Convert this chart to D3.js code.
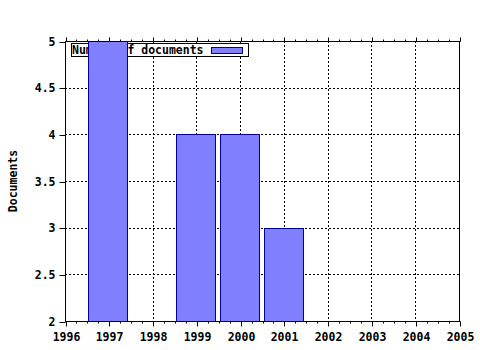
<!DOCTYPE html>
<html><head><meta charset="utf-8">
<script src="https://cdn.jsdelivr.net/npm/d3@7"></script>
<style>body{margin:0;background:#fff}svg{display:block}text{font-family:"DejaVu Sans Mono",monospace;font-weight:bold;font-size:11.5px;fill:#000}</style>
</head><body><svg id="c" width="480" height="350"></svg>
<script>
const years = [1997, 1999, 2000, 2001];
const documents = [5, 4, 4, 3];
const xTicks = [1996, 1997, 1998, 1999, 2000, 2001, 2002, 2003, 2004, 2005];
const yTicks = [2, 2.5, 3, 3.5, 4, 4.5, 5];
const yTickLabels = ["2", "2.5", "3", "3.5", "4", "4.5", "5"];
const seriesName = "Number of documents";
const yTitle = "Documents";

const svg = d3.select("#c");
const L = 65, R = 459, T = 41, B = 321;
const x = d3.scaleLinear().domain([1996, 2005]).range([L, R]);
const y = d3.scaleLinear().domain([2, 5]).range([B, T]);
const yearW = x(1997) - x(1996);
const barW = yearW * 0.89;

// grid
const g = svg.append("g").attr("stroke", "#000").attr("stroke-dasharray", "2,2").attr("stroke-width", 1);
xTicks.slice(1, -1).forEach(t => g.append("line").attr("x1", Math.round(x(t)) + 0.5).attr("x2", Math.round(x(t)) + 0.5).attr("y1", T).attr("y2", B));
yTicks.slice(1, -1).forEach(t => g.append("line").attr("y1", Math.round(y(t)) + 0.5).attr("y2", Math.round(y(t)) + 0.5).attr("x1", L).attr("x2", R));

// legend (drawn under bars)
const lg = svg.append("g");
lg.append("rect").attr("x", 71.5).attr("y", 43.5).attr("width", 177).attr("height", 13).attr("fill", "#fff").attr("stroke", "#000");
lg.append("text").attr("x", 72).attr("y", 54).text(seriesName);
lg.append("rect").attr("x", 211.5).attr("y", 47.5).attr("width", 31).attr("height", 6).attr("fill", "#8080ff").attr("stroke", "#000099");

// bars
svg.append("g").selectAll("rect").data(years).join("rect")
  .attr("x", (d) => Math.round(x(d) - barW / 2 - 0.8) + 0.5)
  .attr("y", (d, i) => Math.round(y(documents[i])) + 0.5)
  .attr("width", Math.round(barW))
  .attr("height", (d, i) => Math.round(B - y(documents[i])))
  .attr("fill", "#8080ff").attr("stroke", "#000099");

// axes
const minor = d3.range(1996, 2005.001, 0.25);
const xb = svg.append("g").attr("transform", `translate(0,${B + 0.5})`)
  .call(d3.axisBottom(x).tickValues(xTicks).tickFormat(d3.format("d")).tickSize(5).tickPadding(6));
const xm = svg.append("g").attr("transform", `translate(0,${B + 0.5})`)
  .call(d3.axisBottom(x).tickValues(minor).tickFormat("").tickSize(2));
const xt = svg.append("g").attr("transform", `translate(0,${T + 0.5})`)
  .call(d3.axisTop(x).tickValues(xTicks).tickFormat("").tickSize(4));
const xtm = svg.append("g").attr("transform", `translate(0,${T + 0.5})`)
  .call(d3.axisTop(x).tickValues(minor).tickFormat("").tickSize(2));
const yl = svg.append("g").attr("transform", `translate(${L + 0.5},0)`)
  .call(d3.axisLeft(y).tickValues(yTicks).tickFormat((d, i) => yTickLabels[i]).tickSize(6).tickPadding(4));
svg.append("line").attr("x1", R + 0.5).attr("x2", R + 0.5).attr("y1", T).attr("y2", B + 1).attr("stroke", "#000");
svg.selectAll(".domain").attr("stroke", "#000");
svg.selectAll(".tick line").attr("stroke", "#000");
svg.selectAll(".tick text").attr("font-family", null).attr("font-size", null).style("font-family", "'DejaVu Sans Mono',monospace").style("font-weight", "bold").style("font-size", "11.5px").attr("fill", "#000");
// align tick lines to pixel grid
svg.selectAll(".tick").attr("transform", function(){
  const t = d3.select(this).attr("transform");
  const m = /translate\(([^,]+),([^)]+)\)/.exec(t);
  const a = +m[1], b = +m[2];
  return `translate(${a === 0 ? 0 : Math.round(a) + 0.5},${b === 0 ? 0 : Math.round(b) + 0.5})`;
});
xb.select(".domain").attr("d", `M${L},0H${R + 1}`);
xm.select(".domain").remove(); xt.select(".domain").attr("d", `M${L},0H${R + 1}`); xtm.select(".domain").remove();
yl.select(".domain").attr("d", `M0,${T}V${B + 1}`);

svg.append("text").attr("transform", `translate(17,${(T + B) / 2}) rotate(-90)`).attr("text-anchor", "middle").text(yTitle);
</script></body></html>
